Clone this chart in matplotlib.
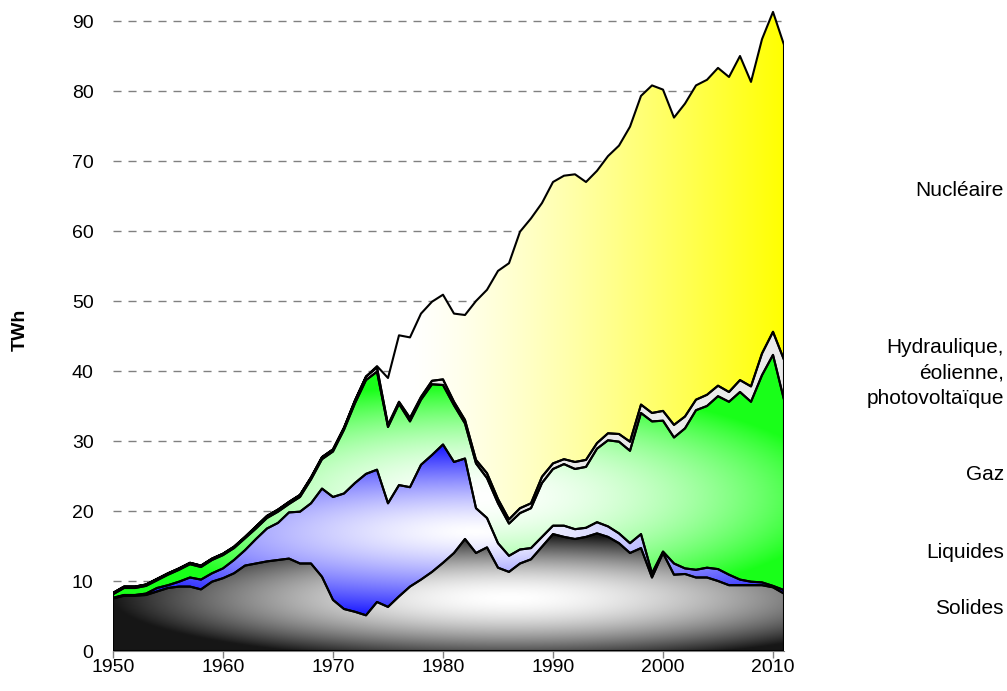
import numpy as np
import matplotlib
matplotlib.use('Agg')
import matplotlib.pyplot as plt
from matplotlib.patches import Polygon

plt.rcParams['font.family'] = ['Liberation Sans', 'DejaVu Sans']

years = np.arange(1950, 2012)

solides = [7.5, 7.9, 7.9, 8.0, 8.5, 9.0, 9.2, 9.2, 8.8, 9.9,
           10.4, 11.1, 12.2, 12.5, 12.8, 13.0, 13.2, 12.5, 12.5, 10.6,
           7.3, 6.0, 5.6, 5.1, 7.0, 6.3, 7.8, 9.2, 10.2, 11.3,
           12.6, 14.0, 16.0, 14.0, 14.8, 11.9, 11.3, 12.5, 13.1, 14.9,
           16.7, 16.3, 16.0, 16.3, 16.8, 16.3, 15.4, 14.0, 14.7, 10.5,
           14.0, 10.9, 11.0, 10.5, 10.5, 10.0, 9.4, 9.4, 9.4, 9.4,
           9.1, 8.2]
liquides = [0.1, 0.1, 0.1, 0.2, 0.5, 0.4, 0.7, 1.3, 1.4, 1.2,
            1.4, 1.9, 2.2, 3.5, 4.7, 5.3, 6.6, 7.4, 8.6, 12.6,
            14.7, 16.5, 18.4, 20.2, 18.9, 14.8, 15.9, 14.2, 16.4, 16.7,
            16.9, 13.0, 11.5, 6.4, 4.2, 3.5, 2.3, 2.0, 1.6, 1.4,
            1.2, 1.6, 1.4, 1.3, 1.6, 1.5, 1.4, 1.4, 2.0, 0.6,
            0.2, 1.6, 0.8, 1.1, 1.4, 1.7, 1.5, 0.8, 0.5, 0.4,
            0.2, 0.5]
gaz = [0.5, 1.0, 1.0, 1.1, 1.1, 1.5, 1.7, 1.9, 1.8, 1.9,
       1.9, 1.7, 1.7, 1.5, 1.5, 1.6, 1.2, 2.1, 3.4, 4.2,
       6.5, 9.1, 11.4, 13.4, 14.0, 10.9, 11.6, 9.4, 9.3, 10.1,
       8.5, 8.1, 5.0, 6.4, 5.7, 5.7, 4.6, 5.2, 5.7, 7.7,
       8.1, 8.8, 8.6, 8.7, 10.5, 12.3, 13.1, 13.2, 17.3, 21.7,
       18.7, 18.0, 20.0, 22.8, 23.1, 24.7, 24.7, 26.8, 25.7, 29.6,
       33.0, 27.2]
hydro = [0.2, 0.2, 0.2, 0.2, 0.2, 0.2, 0.2, 0.2, 0.2, 0.2,
         0.2, 0.2, 0.2, 0.3, 0.3, 0.3, 0.3, 0.3, 0.3, 0.3,
         0.3, 0.3, 0.4, 0.5, 0.6, 0.3, 0.3, 0.5, 0.4, 0.5,
         0.8, 0.5, 0.5, 0.5, 0.7, 0.6, 0.6, 0.7, 0.7, 0.9,
         0.8, 0.7, 1.0, 1.0, 0.8, 1.0, 1.1, 1.3, 1.2, 1.2,
         1.4, 1.8, 1.7, 1.5, 1.6, 1.5, 1.4, 1.7, 2.2, 3.1,
         3.3, 5.7]
nucleaire = [0.0] * 24 + [0.2,
             6.7, 9.5, 11.5, 11.9, 11.3,
             12.1, 12.6, 15.0, 22.7, 26.2, 32.6, 36.6, 39.5, 40.7, 39.1,
             40.2, 40.5, 41.1, 39.7, 38.9, 39.6, 41.2, 45.0, 44.1, 46.8,
             45.9, 43.9, 44.7, 44.9, 45.0, 45.4, 45.0, 46.3, 43.5, 44.9,
             45.7, 45.0]

series_names = ["Solides", "Liquides", "Gaz",
                "Hydraulique,\néolienne,\nphotovoltaïque", "Nucléaire"]
series = [solides, liquides, gaz, hydro, nucleaire]

W, H = 1007, 691
fig = plt.figure(figsize=(W / 100, H / 100), dpi=100)
ax = fig.add_axes([113 / W, 40 / H, (784 - 113) / W, 644 / H])
x0, x1, y0, y1 = 1950, 2011, 0, 92

# gradient images
nx, ny = 700, 660
gx = np.linspace(x0, x1, nx)
gy = np.linspace(y0, y1, ny)
X, Y = np.meshgrid(gx, gy)


def radial(cx, cy, rx, ry):
    return np.clip(np.sqrt(((X - cx) / rx) ** 2 + ((Y - cy) / ry) ** 2), 0, 1)


r = radial(1986, 7.5, 36, 9)
v = 0.09 + 0.91 * (1 - r ** 1.7)
img_sol = np.dstack([v, v, v])

g = radial(1983, 17, 40, 12) ** 1.4
c = 1 - 0.88 * g
img_liq = np.dstack([c, c, np.ones_like(c)])

g = radial(1983, 22, 33, 16) ** 1.8
c = 1 - 0.9 * g
img_gaz = np.dstack([c, np.ones_like(c), c])

img_hyd = np.dstack([np.full_like(X, 0.92)] * 3)

t = np.clip((X - 1977) / 34, 0, 1)
b = np.clip(1 - t ** 1.3, 0, 1)
img_nuc = np.dstack([np.ones_like(b), np.ones_like(b), b])

imgs = [img_sol, img_liq, img_gaz, img_hyd, img_nuc]

cum = np.zeros(len(years))
for vals, img in zip(series, imgs):
    lower = cum.copy()
    upper = cum + np.array(vals)
    verts = np.column_stack([np.r_[years, years[::-1]],
                             np.r_[upper, lower[::-1]]])
    patch = Polygon(verts, closed=True, facecolor='none', edgecolor='black',
                    lw=1.5, joinstyle='round', zorder=3)
    ax.add_patch(patch)
    im = ax.imshow(img, extent=[x0, x1, y0, y1], origin='lower',
                   aspect='auto', interpolation='bilinear', zorder=2)
    im.set_clip_path(patch)
    cum = upper

ax.set_xlim(x0, x1)
ax.set_ylim(y0, y1)

for gv in range(10, 91, 10):
    ax.axhline(gv, color='#808080', lw=1.0, ls=(0, (5.8, 5.0)), zorder=1)

ax.set_xticks(range(1950, 2011, 10))
ax.set_yticks(range(0, 91, 10))
ax.tick_params(axis='y', length=0, pad=14, labelsize=14)
ax.tick_params(axis='x', length=5, width=1, color='#808080', pad=0.5,
               labelsize=14, direction='out')
for s in ['left', 'top', 'right']:
    ax.spines[s].set_visible(False)
ax.spines['bottom'].set_color('#808080')
ax.patch.set_alpha(0)

fig.text(20 / W, 1 - 330 / H, 'TWh', rotation=90, fontweight='bold',
         ha='center', va='center', fontsize=14)

label_y = [608, 553, 475, 373, 190]
for name, ly in zip(series_names, label_y):
    fig.text(1004 / W, 1 - ly / H, name, ha='right', va='center',
             fontsize=15, linespacing=1.45, multialignment='right')

fig.savefig('out.png', dpi=100)
